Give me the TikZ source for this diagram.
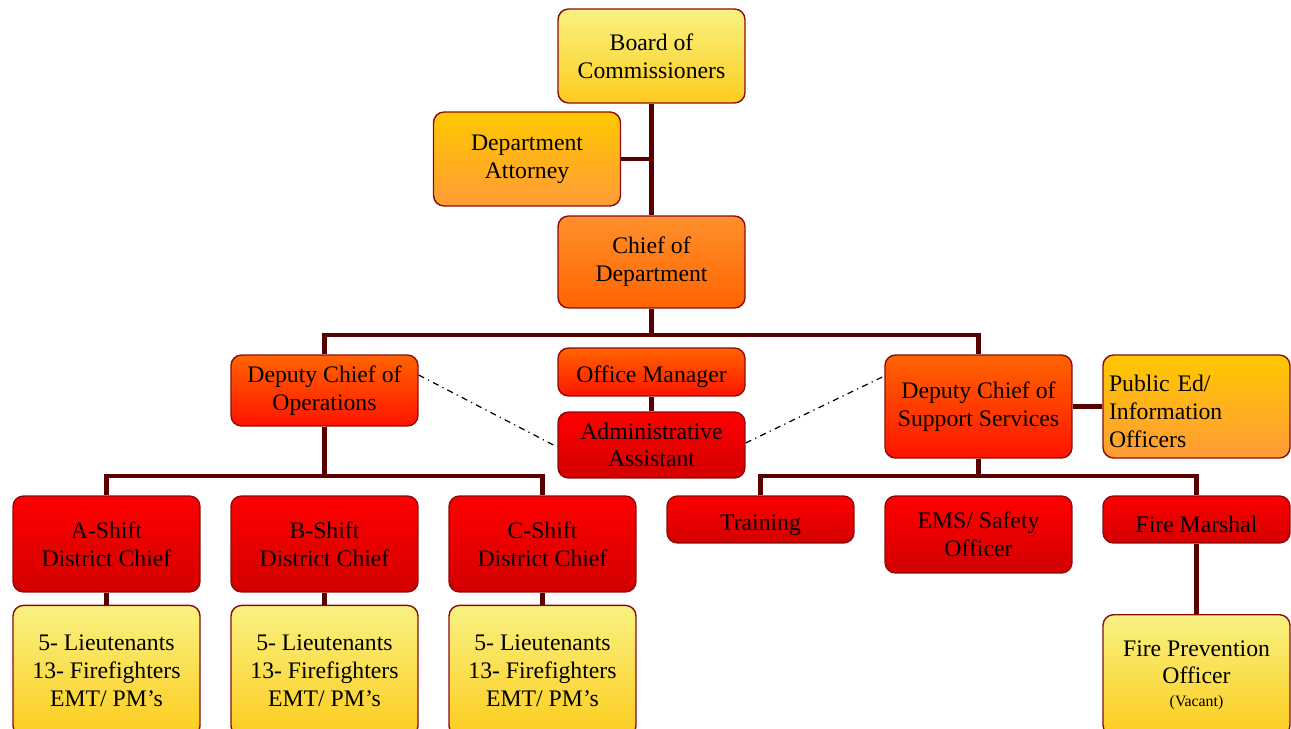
\documentclass[tikz,border=0pt]{standalone}
\usepackage{fontspec}
\setmainfont{Liberation Serif}
\usepackage{tikz}
\usetikzlibrary{calc}

\definecolor{linkred}{RGB}{90,0,0}
\definecolor{edgered}{RGB}{140,10,10}
\definecolor{paleyellow}{RGB}{248,242,130}
\definecolor{gold}{RGB}{253,204,30}
\definecolor{amber}{RGB}{255,200,0}
\definecolor{lightorange}{RGB}{255,155,55}
\definecolor{midorange}{RGB}{255,100,0}
\definecolor{hotred}{RGB}{255,20,0}
\definecolor{deepred}{RGB}{210,0,0}

\begin{document}
\begin{tikzpicture}[x=0.02cm,y=0.02cm,
  box/.style={draw=edgered,line width=0.8pt,rounded corners=6pt,align=center,
    minimum width=3.74cm,inner sep=2pt,font=\fontsize{13.5}{15.8}\selectfont,
    execute at begin node={\rule{0pt}{15.2pt}}},
  yellowbox/.style={box,top color=paleyellow,bottom color=gold},
  goldbox/.style={box,top color=amber,bottom color=lightorange},
  orangebox/.style={box,top color=lightorange!80!midorange,bottom color=midorange},
  fierybox/.style={box,top color=midorange,bottom color=hotred},
  redbox/.style={box,top color=red,bottom color=deepred},
  link/.style={line width=2.8pt,draw=linkred},
  dotlink/.style={line width=0.7pt,black,dash pattern=on 3.5pt off 2.5pt on 0.7pt off 2.5pt}]

  \useasboundingbox (0,0) rectangle (1291,-729);

  % top of the chart
  \node[yellowbox,minimum height=1.88cm] (board) at (651.5,-56) {Board of\\Commissioners};
  \node[goldbox,minimum height=1.88cm] (attorney) at (527,-159) {Department\\Attorney};
  \node[orangebox,minimum height=1.84cm] (chief) at (651.5,-262) {Chief of\\Department};
  \draw[link] (board) -- (chief);
  \draw[link] (attorney) -- (attorney -| chief);

  % deputies and office
  \node[fierybox,minimum height=1.42cm] (dops) at (324.5,-390.5) {Deputy Chief of\\Operations};
  \node[fierybox,minimum height=0.96cm] (office) at (651.5,-372) {Office Manager};
  \node[redbox,minimum height=1.32cm] (admin) at (651.5,-445) {Administrative\\Assistant};
  \node[fierybox,minimum height=2.06cm] (dsup) at (978.5,-406.5) {Deputy Chief of\\Support Services};
  \node[goldbox,minimum height=2.06cm,align=left,text width=3.5cm] (pubed) at (1196.5,-406.5)
    {Public Ed/\\Information\\Officers};

  \coordinate (bustop) at (651.5,-335);
  \draw[link] (chief) -- (bustop);
  \draw[link] (dops.north) |- (bustop) -| (dsup.north);
  \draw[link] (office) -- (admin);
  \draw[link] (dsup) -- (pubed);
  \draw[dotlink] ([yshift=0.31cm]dops.east) -- ([yshift=-0.04cm]admin.west);
  \draw[dotlink] ([yshift=0.04cm]admin.east) -- ([yshift=0.61cm]dsup.west);

  % shifts
  \node[redbox,minimum height=1.92cm] (ashift) at (106.5,-544) {A-Shift\\District Chief};
  \node[redbox,minimum height=1.92cm] (bshift) at (324.5,-544) {B-Shift\\District Chief};
  \node[redbox,minimum height=1.92cm] (cshift) at (542.5,-544) {C-Shift\\District Chief};
  \foreach \s/\n in {ashift/acrew,bshift/bcrew,cshift/ccrew}{
    \node[yellowbox,minimum height=2.62cm,anchor=north] (\n) at ($(\s.south)+(0,-12)$)
      {5- Lieutenants\\13- Firefighters\\EMT/ PM’s};
    \draw[link] (\s) -- (\n);
  }
  \coordinate (busops) at (324.5,-476);
  \draw[link] (dops) -- (busops);
  \draw[link] (ashift.north) |- (busops) -| (cshift.north);

  % support services
  \node[redbox,minimum height=0.94cm] (training) at (760.5,-519.5) {Training};
  \node[redbox,minimum height=1.54cm] (ems) at (978.5,-534.5) {EMS/ Safety\\Officer};
  \node[redbox,minimum height=0.94cm] (marshal) at (1196.5,-519.5) {Fire Marshal};
  \node[yellowbox,minimum height=2.42cm,anchor=north] (prevent) at (1196.5,-614)
    {Fire Prevention\\Officer\\[-3pt]{\fontsize{9}{10}\selectfont(Vacant)}};
  \coordinate (bussup) at (978.5,-476);
  \draw[link] (dsup) -- (bussup);
  \draw[link] (training.north) |- (bussup) -| (marshal.north);
  \draw[link] (marshal) -- (prevent);
\end{tikzpicture}
\end{document}
